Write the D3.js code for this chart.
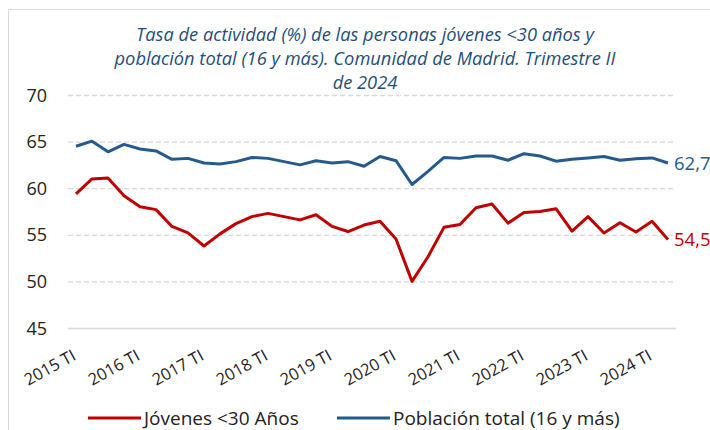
<!DOCTYPE html>
<html lang="es">
<head>
    <meta charset="UTF-8">
    <title>Tasa de actividad</title>
    <script src="https://d3js.org/d3.v7.min.js"></script>
    <style>
        body { margin: 0; background: #fff; }
        text { font-family: "Open Sans", sans-serif; }
    </style>
</head>
<body>
    <svg width="710" height="430"></svg>
    <script>
        // data, quarterly 2015 TI .. 2024 TII
        const years = [2015, 2016, 2017, 2018, 2019, 2020, 2021, 2022, 2023, 2024];
        const quarters = ['TI', 'TII', 'TIII', 'TIV'];
        const tickLabels = ['2015 TI', '2016 TI', '2017 TI', '2018 TI', '2019 TI',
                            '2020 TI', '2021 TI', '2022 TI', '2023 TI', '2024 TI'];
        const yTicks = [45, 50, 55, 60, 65, 70];

        const jovenes = [59.4, 61.0, 61.1, 59.2, 58.0, 57.7, 55.9, 55.2,
                         53.8, 55.1, 56.2, 56.95, 57.3, 56.95, 56.6, 57.15,
                         55.9, 55.35, 56.05, 56.45, 54.55, 50.0, 52.65, 55.8,
                         56.1, 57.9, 58.3, 56.25, 57.4, 57.5, 57.8, 55.4,
                         56.95, 55.2, 56.3, 55.3, 56.45, 54.5];
        const total = [64.5, 65.05, 63.9, 64.7, 64.2, 64.0, 63.1, 63.2,
                       62.7, 62.6, 62.85, 63.3, 63.2, 62.85, 62.5, 62.95,
                       62.7, 62.85, 62.35, 63.4, 62.95, 60.4, 61.8, 63.3,
                       63.2, 63.45, 63.45, 63.0, 63.7, 63.45, 62.9, 63.1,
                       63.25, 63.4, 63.0, 63.15, 63.25, 62.7];

        const titleLines = ['Tasa de actividad (%) de las personas jóvenes <30 años y',
                            'población total (16 y más). Comunidad de Madrid. Trimestre II',
                            'de 2024'];
        const seriesNames = ['Jóvenes <30 Años', 'Población total (16 y más)'];

        const red = '#C00000', blue = '#245A8D', titleBlue = '#1F4E79';

        // categories built from year x quarter lists
        const categories = [];
        years.forEach(y => quarters.forEach(q => categories.push(y + ' ' + q)));
        categories.length = jovenes.length;

        const svg = d3.select('svg');

        // outer chart frame (only left and top edges are visible)
        svg.append('path')
            .attr('d', 'M8.5,430 V9.5 H710')
            .attr('fill', 'none')
            .attr('stroke', '#D9D9D9');

        const x = d3.scaleBand().domain(categories).range([68, 676]);
        const y = d3.scaleLinear().domain([45, 70]).range([328, 95]);
        const cx = d => x(d) + x.bandwidth() / 2;

        // title
        svg.append('g').selectAll('text')
            .data(titleLines)
            .join('text')
            .attr('x', 365)
            .attr('y', (d, i) => 41 + i * 24)
            .attr('text-anchor', 'middle')
            .attr('font-style', 'italic')
            .attr('font-size', 18.3)
            .attr('fill', titleBlue)
            .text(d => d);

        // gridlines
        const grid = svg.append('g')
            .attr('transform', 'translate(68,0)')
            .call(d3.axisLeft(y).tickValues(yTicks).tickSize(-608).tickFormat(''));
        grid.select('.domain').remove();
        grid.selectAll('.tick line')
            .attr('stroke', '#D9D9D9')
            .attr('stroke-width', 1.3)
            .attr('stroke-dasharray', d => d === 45 ? null : '5,3');

        // y labels
        svg.append('g').selectAll('text')
            .data(yTicks)
            .join('text')
            .attr('x', 47)
            .attr('y', d => y(d) + 6.5)
            .attr('text-anchor', 'end')
            .attr('font-size', 18)
            .attr('fill', '#222')
            .text(d => d);

        // x labels, rotated
        svg.append('g').selectAll('text')
            .data(tickLabels)
            .join('text')
            .attr('transform', d => `translate(${cx(d) + 1},359) rotate(-29)`)
            .attr('text-anchor', 'end')
            .attr('font-size', 16.5)
            .attr('fill', '#222')
            .text(d => d);

        // lines
        const line = d3.line()
            .x((d, i) => cx(categories[i]))
            .y(d => y(d));

        [[total, blue], [jovenes, red]].forEach(([vals, col]) => {
            svg.append('path')
                .datum(vals)
                .attr('d', line)
                .attr('fill', 'none')
                .attr('stroke', col)
                .attr('stroke-width', 3)
                .attr('stroke-linejoin', 'round');
        });

        // end labels
        const fmt = v => String(v.toFixed(1)).replace('.', ',');
        const last = categories.length - 1;
        [[total, blue], [jovenes, red]].forEach(([vals, col]) => {
            svg.append('text')
                .attr('x', cx(categories[last]) + 6)
                .attr('y', y(vals[last]) + 6.5)
                .attr('font-size', 18.5)
                .attr('fill', col)
                .text(fmt(vals[last]));
        });

        // legend
        const legend = [
            { name: seriesNames[0], color: red, x: 88 },
            { name: seriesNames[1], color: blue, x: 337 }
        ];
        const lg = svg.append('g').selectAll('g')
            .data(legend)
            .join('g')
            .attr('transform', d => `translate(${d.x},418)`);
        lg.append('line')
            .attr('x1', 0).attr('x2', 53)
            .attr('stroke', d => d.color)
            .attr('stroke-width', 3);
        lg.append('text')
            .attr('x', 56)
            .attr('y', 6.5)
            .attr('font-size', 19)
            .attr('fill', '#222')
            .text(d => d.name);
    </script>
</body>
</html>
